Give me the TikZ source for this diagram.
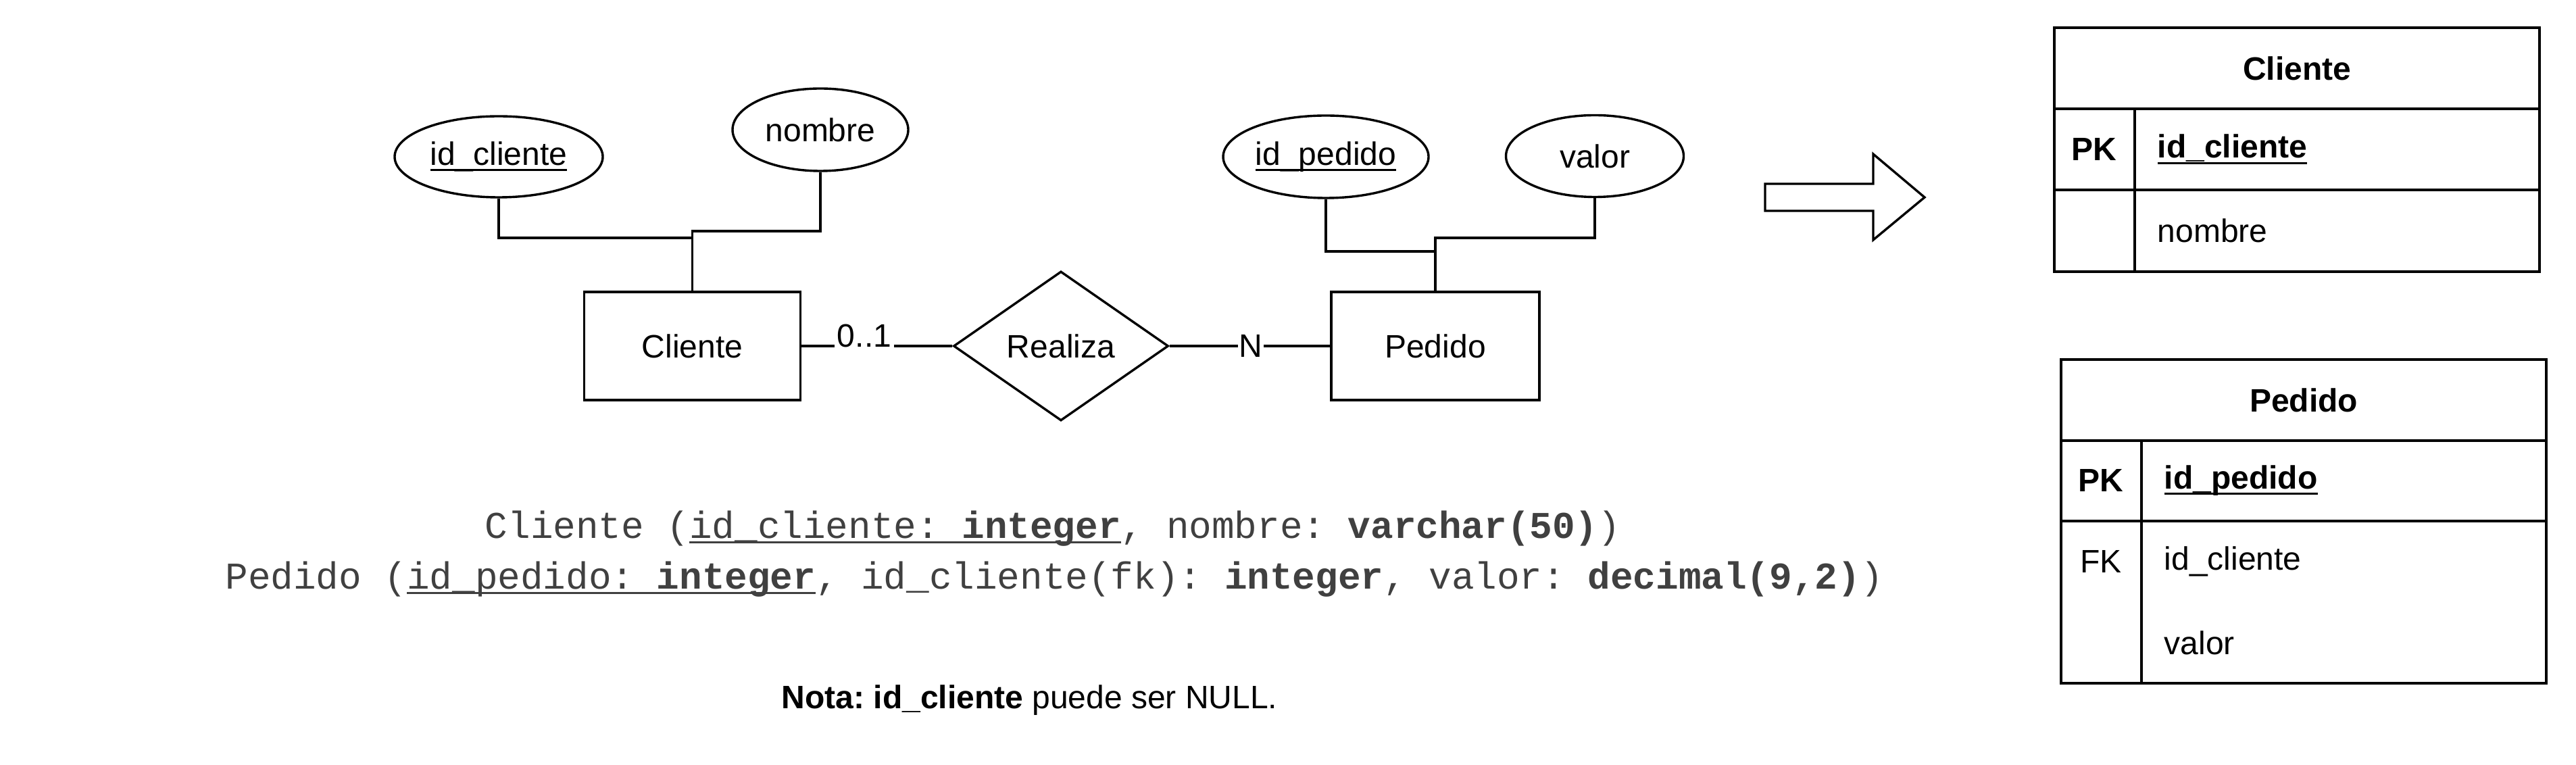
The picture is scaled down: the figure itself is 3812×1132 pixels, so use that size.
\documentclass[tikz,border=0pt]{standalone}
\usepackage{fontspec}
\setmainfont{Liberation Sans}
\newfontfamily\monof{Liberation Mono}
\usetikzlibrary{shapes.geometric}
\definecolor{monogray}{HTML}{404040}
\newsavebox\ulbox
\newcommand\sul[1]{\sbox\ulbox{#1}\rlap{\rule[-2.2pt]{\wd\ulbox}{0.75pt}}\usebox\ulbox}
\newcommand\mul[1]{\sbox\ulbox{#1}\rlap{\rule[-1.7pt]{\wd\ulbox}{0.75pt}}\usebox\ulbox}
\tikzset{
  ln/.style={line width=0.85pt, line join=miter},
  ent/.style={draw, ln, inner sep=0pt, minimum height=40pt},
  attr/.style={draw, ellipse, ln, inner sep=0pt},
  rel/.style={draw, diamond, ln, inner sep=0pt},
  card/.style={fill=white, inner sep=1pt},
  cell/.style={anchor=west, inner sep=0pt},
  ctr/.style={inner sep=0pt},
  mono/.style={inner sep=0pt, text=monogray, font=\monof\fontsize{14pt}{18pt}\selectfont\frenchspacing},
}
\begin{document}
\begin{tikzpicture}[x=0.25pt, y=-0.25pt,
  every node/.append style={font=\fontsize{12pt}{14pt}\selectfont\frenchspacing}]
\useasboundingbox (0,0) rectangle (3812,1132);

% ER diagram
\node[ent, minimum width=80pt] (cli) at (1024.5,512) {Cliente};
\node[ent, minimum width=77pt] (ped) at (2124,512) {Pedido};
\node[rel, minimum width=79.5pt, minimum height=55.25pt] (rea) at (1570,512) {Realiza};
\node[attr, minimum width=77pt, minimum height=30pt] (idc) at (738,232) {\sul{id\_cliente}};
\node[attr, minimum width=65pt, minimum height=30.5pt] (nom) at (1214,192) {nombre};
\node[attr, minimum width=76pt, minimum height=30.5pt] (idp) at (1962,232) {\sul{id\_pedido}};
\node[attr, minimum width=65.75pt, minimum height=30.25pt] (val) at (2360,231) {valor};

\coordinate (j1) at (1024.5,352);
\coordinate (j2) at (1024.5,342);
\coordinate (j3) at (2124,372);
\coordinate (j4) at (2124,352);

\draw[ln] (idc.south) |- (j1) -- (cli.north);
\draw[ln] (nom.south) |- (j2) -- (cli.north);
\draw[ln] (idp.south) |- (j3) -- (ped.north);
\draw[ln] (val.south) |- (j4) -- (ped.north);

\draw[ln] (cli.east) -- node[card, pos=0.416, yshift=3.75pt] (c01) {0..1} (rea.west);
\draw[ln] (rea.east) -- node[card, inner sep=0.5pt, pos=0.506] (cn) {N} (ped.west);

% relational schema text
\node[mono, anchor=base] (s1) at (1558,797) {Cliente (\mul{id\_cliente: \textbf{integer}}, nombre: \textbf{varchar(50)})};
\node[mono, anchor=base] (s2) at (1560,872) {Pedido (\mul{id\_pedido: \textbf{integer}}, id\_cliente(fk): \textbf{integer}, valor: \textbf{decimal(9,2)})};

\node[inner sep=0pt, anchor=base west] (nota) at (1156,1048) {\textbf{Nota:} \textbf{id\_cliente} puede ser NULL.};

% block arrow
\draw[ln] (2612,272) -- (2772,272) -- (2772,228) -- (2848,292) -- (2772,355) -- (2772,312) -- (2612,312) -- cycle;

% table Cliente
\draw[ln] (3040,41) rectangle (3758,402);
\draw[ln] (3040,161) -- (3758,161);
\draw[ln] (3040,281) -- (3758,281);
\draw[ln] (3159,161) -- (3159,402);
\node[ctr] (tc) at (3399,101) {\textbf{Cliente}};
\node[ctr] (tpk1) at (3099,221) {\textbf{PK}};
\node[cell] (tidc) at (3192,221) {\sul{\textbf{id\_cliente}}};
\node[cell] (tnom) at (3192,341) {nombre};

% table Pedido
\draw[ln] (3050,532) rectangle (3768,1011);
\draw[ln] (3050,652) -- (3768,652);
\draw[ln] (3050,771) -- (3768,771);
\draw[ln] (3169,652) -- (3169,1011);
\node[ctr] (tp) at (3409,592) {\textbf{Pedido}};
\node[ctr] (tpk2) at (3109,711) {\textbf{PK}};
\node[cell] (tidp) at (3202,711) {\sul{\textbf{id\_pedido}}};
\node[ctr] (tfk) at (3109,831) {FK};
\node[cell] (tidc2) at (3202,831) {id\_cliente};
\node[cell] (tval) at (3202,951) {valor};
\end{tikzpicture}
\end{document}
